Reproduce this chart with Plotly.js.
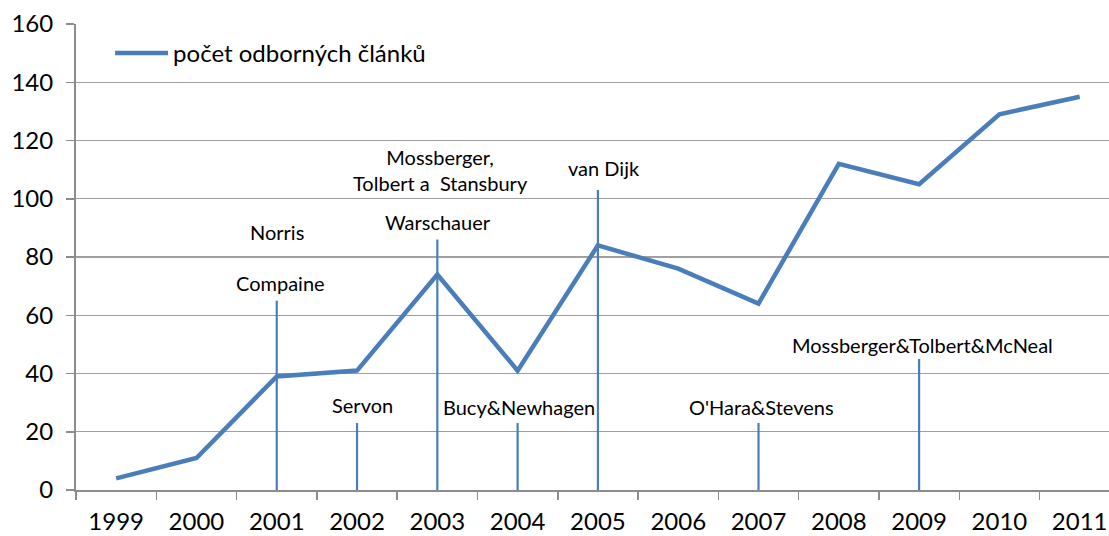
<!DOCTYPE html>
<html><head><meta charset="utf-8">
<script src="https://cdn.plot.ly/plotly-3.0.1.min.js"></script>
<style>html,body{margin:0;padding:0;background:#fff}#c{width:1109px;height:536px}</style>
</head><body><div id="c"></div>
<script>
const years = ['1999','2000','2001','2002','2003','2004','2005','2006','2007','2008','2009','2010','2011'];
const articleCounts = [4, 11, 39, 41, 74, 41, 84, 76, 64, 112, 105, 129, 135];
const seriesName = 'počet odborných článků';

const markerYears = ['2001','2002','2003','2004','2005','2007','2009'];
const markerHeights = [65, 23, 86, 23, 103, 23, 45];

const noteTexts = ['Norris','Compaine','Mossberger,<br>Tolbert a  Stansbury','Warschauer','van Dijk','Servon','Bucy&amp;Newhagen','O\'Hara&amp;Stevens','Mossberger&amp;Tolbert&amp;McNeal'];
const noteYears = ['2001','2001','2003','2003','2005','2002','2004','2007','2009'];
const noteY = [88.6, 71.1, 110, 92, 110.6, 29.2, 28.5, 28.5, 49.8];
const noteShift = [0, 4, 3, 1, 6, 5, 1, 3, 3];

const blue = '#4a7ebb';
const mx = [], my = [];
markerYears.forEach((yr, i) => { mx.push(yr, yr, null); my.push(0, markerHeights[i], null); });

const traces = [
  {x: mx, y: my, type: 'scatter', mode: 'lines', line: {color: blue, width: 2.2}, showlegend: false, hoverinfo: 'skip'},
  {x: years, y: articleCounts, type: 'scatter', mode: 'lines', name: seriesName, line: {color: blue, width: 4.5}}
];

const annotations = noteTexts.map((t, i) => ({
  x: years.indexOf(noteYears[i]), y: noteY[i], xref: 'x', yref: 'y', text: t, showarrow: false,
  xanchor: 'center', yanchor: 'middle',
  xshift: noteShift[i], font: {family: 'Lato, sans-serif', size: 20, color: '#000'}
}));

const layout = {
  width: 1109, height: 536,
  margin: {l: 76, r: 0, t: 24, b: 46},
  paper_bgcolor: '#fff', plot_bgcolor: '#fff',
  font: {family: 'Lato, sans-serif', color: '#000'},
  showlegend: true,
  legend: {x: 0.033, y: 0.985, xanchor: 'left', yanchor: 'top', itemwidth: 53, font: {size: 24, color: '#000'}, bgcolor: 'rgba(0,0,0,0)'},
  xaxis: {
    type: 'category', categoryorder: 'array', categoryarray: years,
    range: [-0.5, 12.365], tickson: 'boundaries', ticks: 'outside', ticklen: 8, tickcolor: '#8c8c8c', tickwidth: 1.5,
    showline: true, linecolor: '#8c8c8c', linewidth: 2, showgrid: false, zeroline: false,
    ticklabelstandoff: 9,
    tickfont: {size: 24, color: '#000'}, fixedrange: true
  },
  yaxis: {
    range: [0, 160], dtick: 20, ticks: 'outside', ticklen: 8, tickcolor: '#8c8c8c', tickwidth: 1.5,
    showline: true, linecolor: '#8c8c8c', linewidth: 2, gridcolor: '#a0a0a0', gridwidth: 1.3,
    ticklabelstandoff: 8,
    zeroline: false, tickfont: {size: 24, color: '#000'}, fixedrange: true
  },
  annotations: annotations
};

Plotly.newPlot('c', traces, layout, {displayModeBar: false, staticPlot: true});
</script>
</body></html>
